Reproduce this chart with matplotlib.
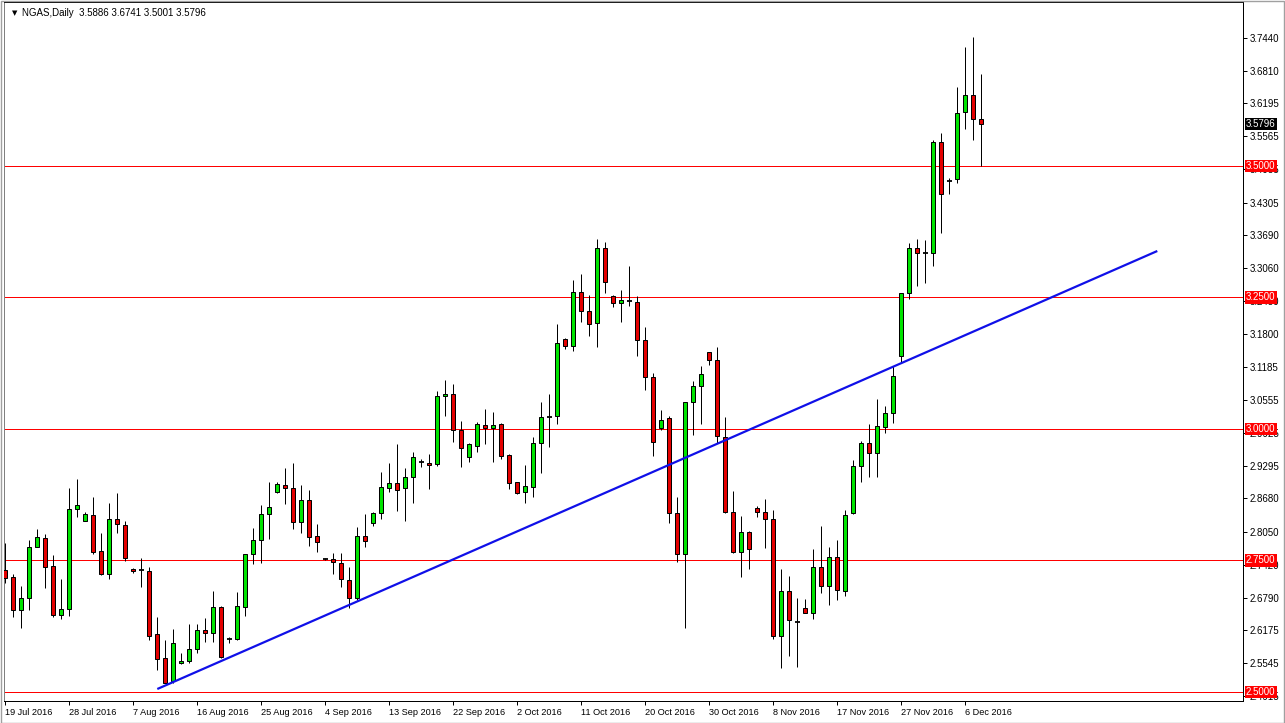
import matplotlib
matplotlib.use("Agg")
import matplotlib.pyplot as plt
from matplotlib.patches import Rectangle

# ---------------- data ----------------
opens = [2.732, 2.718, 2.655, 2.678, 2.776, 2.792, 2.739, 2.646, 2.657, 2.847,
         2.826, 2.837, 2.768, 2.724, 2.828, 2.817, 2.734, 2.731, 2.730, 2.610,
         2.564, 2.520, 2.555, 2.558, 2.581, 2.617, 2.612, 2.661, 2.600, 2.601,
         2.661, 2.762, 2.789, 2.838, 2.881, 2.894, 2.887, 2.823, 2.865, 2.796,
         2.752, 2.753, 2.745, 2.712, 2.678, 2.796, 2.821, 2.840, 2.887, 2.897,
         2.887, 2.908, 2.938, 2.935, 2.933, 3.062, 3.066, 2.998, 2.946, 2.968,
         3.007, 3.001, 3.009, 2.950, 2.899, 2.880, 2.889, 2.973, 3.022, 3.025,
         3.172, 3.158, 3.260, 3.225, 3.201, 3.345, 3.253, 3.239, 3.244, 3.241,
         3.169, 3.098, 3.001, 3.020, 2.841, 2.762, 3.051, 3.082, 3.146, 3.131,
         2.985, 2.843, 2.766, 2.804, 2.849, 2.842, 2.828, 2.607, 2.692, 2.634,
         2.659, 2.651, 2.738, 2.702, 2.756, 2.692, 2.840, 2.930, 2.973, 2.954,
         3.004, 3.030, 3.139, 3.258, 3.345, 3.334, 3.334, 3.545, 3.472, 3.475,
         3.602, 3.635, 3.5886]
highs = [2.783, 2.724, 2.702, 2.789, 2.810, 2.800, 2.761, 2.715, 2.887, 2.905,
         2.842, 2.871, 2.803, 2.860, 2.879, 2.825, 2.736, 2.754, 2.738, 2.643,
         2.599, 2.620, 2.575, 2.629, 2.629, 2.640, 2.692, 2.664, 2.605, 2.690,
         2.763, 2.811, 2.856, 2.899, 2.899, 2.925, 2.936, 2.894, 2.884, 2.819,
         2.754, 2.764, 2.764, 2.738, 2.814, 2.838, 2.842, 2.918, 2.935, 2.972,
         2.925, 2.956, 2.943, 2.952, 3.072, 3.093, 3.086, 3.015, 2.973, 3.013,
         3.038, 3.032, 3.011, 2.952, 2.900, 2.932, 2.984, 3.051, 3.066, 3.200,
         3.173, 3.283, 3.295, 3.255, 3.361, 3.355, 3.254, 3.264, 3.310, 3.253,
         3.194, 3.106, 3.037, 3.025, 2.871, 3.052, 3.091, 3.120, 3.147, 3.156,
         3.022, 2.882, 2.835, 2.806, 2.854, 2.866, 2.846, 2.734, 2.721, 2.678,
         2.676, 2.772, 2.816, 2.775, 2.789, 2.846, 2.941, 2.978, 3.009, 3.057,
         3.043, 3.119, 3.259, 3.353, 3.361, 3.359, 3.550, 3.562, 3.477, 3.650,
         3.727, 3.745, 3.6741]
lows = [2.707, 2.642, 2.621, 2.655, 2.775, 2.698, 2.643, 2.638, 2.645, 2.832,
        2.826, 2.762, 2.722, 2.715, 2.803, 2.749, 2.726, 2.700, 2.599, 2.542,
        2.517, 2.518, 2.553, 2.555, 2.574, 2.596, 2.596, 2.564, 2.593, 2.599,
        2.645, 2.743, 2.745, 2.790, 2.878, 2.857, 2.809, 2.802, 2.778, 2.766,
        2.750, 2.724, 2.700, 2.659, 2.674, 2.776, 2.816, 2.829, 2.881, 2.845,
        2.826, 2.859, 2.928, 2.885, 2.930, 3.025, 2.976, 2.927, 2.938, 2.957,
        2.971, 2.938, 2.943, 2.886, 2.877, 2.860, 2.871, 2.916, 2.966, 3.009,
        3.153, 3.149, 3.204, 3.177, 3.156, 3.258, 3.231, 3.204, 3.234, 3.139,
        3.075, 2.949, 2.998, 2.821, 2.748, 2.621, 2.989, 3.009, 3.122, 2.973,
        2.840, 2.765, 2.719, 2.734, 2.833, 2.774, 2.600, 2.545, 2.569, 2.548,
        2.650, 2.638, 2.688, 2.665, 2.674, 2.683, 2.838, 2.900, 2.908, 2.909,
        2.993, 3.011, 3.128, 3.248, 3.272, 3.278, 3.310, 3.373, 3.446, 3.467,
        3.570, 3.550, 3.5001]
closes = [2.716, 2.655, 2.678, 2.775, 2.794, 2.738, 2.646, 2.657, 2.847, 2.855,
          2.838, 2.766, 2.724, 2.828, 2.819, 2.754, 2.730, 2.731, 2.607, 2.563,
          2.518, 2.593, 2.559, 2.581, 2.617, 2.612, 2.662, 2.566, 2.600, 2.664,
          2.762, 2.789, 2.838, 2.851, 2.895, 2.887, 2.823, 2.865, 2.795, 2.786,
          2.752, 2.747, 2.714, 2.678, 2.797, 2.788, 2.840, 2.889, 2.897, 2.884,
          2.908, 2.946, 2.938, 2.931, 3.063, 3.067, 2.998, 2.963, 2.971, 3.009,
          3.001, 3.007, 2.949, 2.897, 2.878, 2.892, 2.973, 3.022, 3.022, 3.163,
          3.158, 3.260, 3.224, 3.199, 3.345, 3.280, 3.239, 3.245, 3.244, 3.169,
          3.098, 2.975, 3.018, 2.841, 2.762, 3.051, 3.082, 3.104, 3.131, 2.987,
          2.843, 2.766, 2.804, 2.771, 2.842, 2.828, 2.607, 2.692, 2.637, 2.634,
          2.651, 2.738, 2.702, 2.756, 2.693, 2.836, 2.930, 2.973, 2.954, 3.006,
          3.030, 3.101, 3.258, 3.345, 3.334, 3.334, 3.545, 3.446, 3.472, 3.600,
          3.635, 3.589, 3.5796]

date_labels = ["19 Jul 2016", "28 Jul 2016", "7 Aug 2016", "16 Aug 2016",
               "25 Aug 2016", "4 Sep 2016", "13 Sep 2016", "22 Sep 2016",
               "2 Oct 2016", "11 Oct 2016", "20 Oct 2016", "30 Oct 2016",
               "8 Nov 2016", "17 Nov 2016", "27 Nov 2016", "6 Dec 2016"]
bars_per_label = 8

price_ticks = [3.7440, 3.6810, 3.6195, 3.5565, 3.4935, 3.4305, 3.3690, 3.3060,
               3.2430, 3.1800, 3.1185, 3.0555, 2.9925, 2.9295, 2.8680, 2.8050,
               2.7420, 2.6790, 2.6175, 2.5545, 2.4915]
levels = [3.5, 3.25, 3.0, 2.75, 2.5]
current_price = 3.5796
trend_x = [19, 144]
trend_y = [2.5057, 3.3384]
title_text = "NGAS,Daily  3.5886 3.6741 3.5001 3.5796"

# ---------------- figure ----------------
W, H = 1285, 723
fig = plt.figure(figsize=(W / 100, H / 100), dpi=100)
fig.patch.set_facecolor("white")
fig.add_artist(Rectangle((0.5 / W, 0.5 / H), 1 - 1.5 / W, 1 - 1.5 / H,
                         transform=fig.transFigure, fill=False,
                         edgecolor="#a0a0a0", linewidth=1))

ax_left, ax_right, ax_top, ax_bottom = 3.5, 1243, 2, 701
ax = fig.add_axes([ax_left / W, 1 - ax_bottom / H,
                   (ax_right - ax_left) / W, (ax_bottom - ax_top) / H])
ax.set_facecolor("white")
AXW = ax_right - ax_left

FONT = "Liberation Sans"
BULL = "#00e400"
BEAR = "#e40000"
px = 0.72  # one pixel in points

n = len(opens)
idx = list(range(n))

# wicks
ax.vlines(idx, lows, highs, color="black", linewidth=px, zorder=3)

# bodies
body_w = 0.52
for i in idx:
    o, c = opens[i], closes[i]
    if abs(o - c) < 1e-9:
        ax.hlines(c, i - 0.32, i + 0.32, color="black", linewidth=1.3, zorder=4)
    else:
        col = BULL if c > o else BEAR
        ax.bar(i, abs(c - o), bottom=min(o, c), width=body_w, color=col,
               edgecolor="black", linewidth=px, zorder=4)

# horizontal levels
for lv in levels:
    ax.axhline(lv, color="#ff0000", linewidth=px, zorder=2)

# trend line
ax.plot(trend_x, trend_y, color="#1010e8", linewidth=1.6, zorder=5,
        solid_capstyle="butt")

# limits
px_per_bar = 8.0
x0_px = 5.3
ax.set_xlim((ax_left - x0_px) / px_per_bar, (ax_right - x0_px) / px_per_bar)
ppu = 526.0
ax.set_ylim(3.5 - (ax_bottom - 166) / ppu, 3.5 + (166 - ax_top) / ppu)

for s in ax.spines.values():
    s.set_color("black")
    s.set_linewidth(px)
ax.spines["left"].set_color("#808080")

# x ticks
ax.set_xticks([k * bars_per_label for k in range(len(date_labels))])
ax.set_xticklabels(date_labels, fontsize=6.6, fontname=FONT)
for lbl in ax.get_xticklabels():
    lbl.set_horizontalalignment("left")
ax.tick_params(axis="x", direction="out", length=3, width=px, pad=2,
               color="black")

# y ticks on right
ax.yaxis.tick_right()
ax.set_yticks(price_ticks)
ax.set_yticklabels([f"{t:.4f}" for t in price_ticks], fontsize=7, fontname=FONT)
ax.tick_params(axis="y", direction="out", length=3, width=px, pad=2,
               color="black")

# level labels on the right axis
ytr = ax.get_yaxis_transform()
for lv in levels:
    ax.text(1.0 + 3.0 / AXW, lv, f"{lv:.4f}", transform=ytr,
            fontsize=7, fontname=FONT, color="white", va="center", ha="left",
            clip_on=False, zorder=20,
            bbox=dict(boxstyle="square,pad=0.12", facecolor="#ff0000",
                      edgecolor="none"))
ax.text(1.0 + 3.0 / AXW, current_price, f"{current_price:.4f}",
        transform=ytr, fontsize=7, fontname=FONT, color="white", va="center",
        ha="left", clip_on=False, zorder=21,
        bbox=dict(boxstyle="square,pad=0.12", facecolor="black",
                  edgecolor="none"))

# title
ax.text(8 / AXW, 1 - 11 / (ax_bottom - ax_top), "\u25BC",
        transform=ax.transAxes, fontsize=5, fontname="DejaVu Sans",
        va="center", ha="left", color="black", zorder=30)
ax.text(19 / AXW, 1 - 11 / (ax_bottom - ax_top), title_text,
        transform=ax.transAxes, fontsize=7, fontname=FONT, va="center",
        ha="left", color="black", zorder=30)

fig.savefig("out.png", dpi=100, facecolor="white")
